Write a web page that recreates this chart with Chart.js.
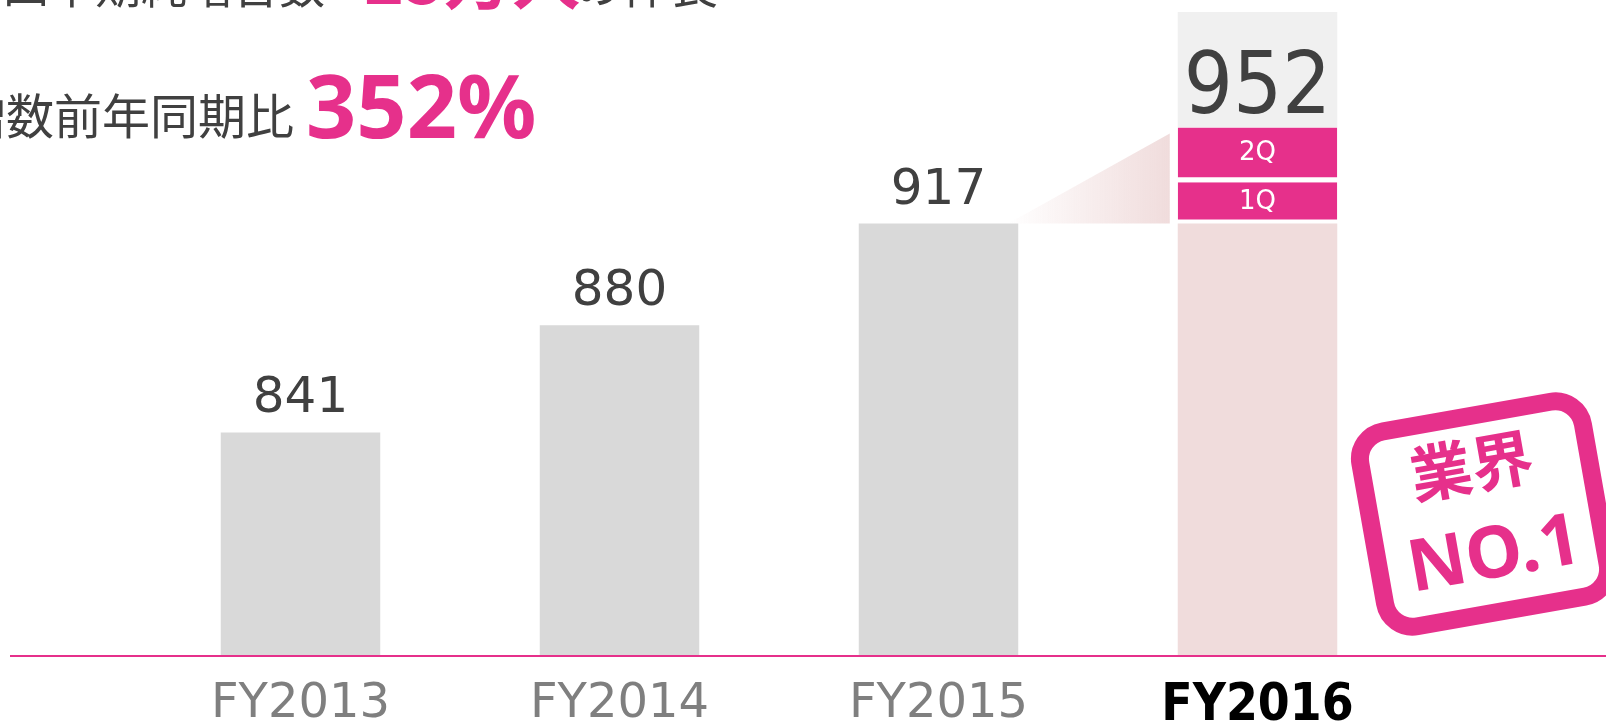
<!DOCTYPE html>
<html>
<head>
<meta charset="utf-8">
<script src="https://cdn.jsdelivr.net/npm/chart.js@4.4.1/dist/chart.umd.min.js"></script>
<style>
  html, body { margin: 0; padding: 0; background: #fff; overflow: hidden; }
  #wrap { position: relative; width: 1606px; height: 724px; }
</style>
</head>
<body>
<div id="wrap"><canvas id="chart" width="1606" height="724"></canvas></div>
<script>
// Chart data
const years = ["FY2013", "FY2014", "FY2015", "FY2016"];
const baseValues = [841, 880, 917, 917];
const q1Values = [null, null, null, 15];
const q2Values = [null, null, null, 20];
const quarterLabels = ["1Q", "2Q"];

// Headline / badge texts
const headline1 = ["四半期純増台数", "+25万人", "の伸長"];
const headline2 = ["純増数前年同期比", "352%"];
const badgeText = ["業界", "NO.1"];

const PINK = "#e6308b";
const DARK = "#404040";

// Extra drawing: label box, fade wedge, values, baseline, headline, badge
const decor = {
  id: "decor",
  beforeDatasetsDraw(chart) {
    const ctx = chart.ctx;
    const area = chart.chartArea;
    const b15 = chart.getDatasetMeta(0).data[2];
    const b16 = chart.getDatasetMeta(0).data[3];
    const top16 = chart.getDatasetMeta(2).data[3];
    const left16 = b16.x - b16.width / 2;

    ctx.save();
    // grey box behind the total
    ctx.fillStyle = "#f0f0f0";
    ctx.fillRect(left16, area.top, b16.width, top16.y - area.top);

    // fade wedge from FY2015 up to the quarters
    const x0 = b15.x + b15.width / 2;
    const x1 = left16 - 8;
    const yb = b16.y;
    const g = ctx.createLinearGradient(x0 - 10, 0, x1, 0);
    g.addColorStop(0, "rgba(240,220,220,0)");
    g.addColorStop(1, "rgba(240,220,220,1)");
    ctx.fillStyle = g;
    ctx.beginPath();
    ctx.moveTo(x0 - 10, yb);
    ctx.lineTo(x1, top16.y + 6);
    ctx.lineTo(x1, yb);
    ctx.closePath();
    ctx.fill();
    ctx.restore();
  },
  afterDatasetsDraw(chart) {
    const ctx = chart.ctx;
    const area = chart.chartArea;
    const bars = chart.getDatasetMeta(0).data;

    ctx.save();
    // pink baseline
    ctx.fillStyle = PINK;
    ctx.fillRect(10, area.bottom, chart.width - 10, 2);

    // values above bars
    ctx.fillStyle = DARK;
    ctx.textAlign = "center";
    ctx.textBaseline = "alphabetic";
    ctx.font = "50px 'DejaVu Sans'";
    for (let i = 0; i < 3; i++) {
      ctx.fillText(String(baseValues[i]), bars[i].x, bars[i].y - 20);
    }

    // total for FY2016
    const total = baseValues[3] + q1Values[3] + q2Values[3];
    const top16 = chart.getDatasetMeta(2).data[3];
    ctx.font = "86px 'DejaVu Sans Condensed'";
    ctx.fillText(String(total), bars[3].x, top16.y - 14);

    // quarter labels
    ctx.fillStyle = "#fff";
    ctx.font = "26px 'DejaVu Sans'";
    ctx.textBaseline = "middle";
    [1, 2].forEach(function (d, k) {
      const el = chart.getDatasetMeta(d).data[3];
      const gap = d === 1 ? 4 : 5;
      ctx.fillText(quarterLabels[k], el.x, (el.y + el.base - gap) / 2 + 1);
    });
    ctx.restore();
  },
  afterDraw(chart) {
    const ctx = chart.ctx;
    ctx.save();
    ctx.textAlign = "left";
    ctx.textBaseline = "alphabetic";

    // headline line 1 (cut at top)
    ctx.fillStyle = DARK;
    ctx.font = "46px 'Noto Sans CJK JP'";
    ctx.fillText(headline1[0], 3, 3);
    ctx.fillStyle = PINK;
    ctx.font = "bold 68px 'Noto Sans CJK JP'";
    ctx.fillText(headline1[1], 324, 4);
    ctx.fillStyle = DARK;
    ctx.font = "48px 'Noto Sans CJK JP'";
    ctx.fillText(headline1[2], 574, 3);

    // headline line 2
    ctx.font = "48px 'Noto Sans CJK JP'";
    ctx.fillText(headline2[0], -90, 134);
    ctx.fillStyle = PINK;
    ctx.font = "bold 88px 'Noto Sans'";
    ctx.fillText(headline2[1], 306, 138);

    // badge
    ctx.translate(1484, 514);
    ctx.rotate(-10 * Math.PI / 180);
    ctx.beginPath();
    ctx.roundRect(-113, -99, 226, 198, 28);
    ctx.fillStyle = "#fff";
    ctx.fill();
    ctx.lineWidth = 18;
    ctx.strokeStyle = PINK;
    ctx.stroke();
    ctx.fillStyle = PINK;
    ctx.textAlign = "center";
    ctx.textBaseline = "middle";
    ctx.font = "bold 62px 'Noto Sans CJK JP'";
    ctx.fillText(badgeText[0], -4, -50);
    ctx.font = "bold 72px 'Noto Sans'";
    ctx.fillText(badgeText[1], 3, 44);
    ctx.restore();
  }
};

const ctx = document.getElementById("chart").getContext("2d");

const chart = new Chart(ctx, {
  type: "bar",
  data: {
    labels: years,
    datasets: [
      {
        label: "base",
        data: baseValues,
        backgroundColor: ["#d9d9d9", "#d9d9d9", "#d9d9d9", "#f0dcdc"],
        borderWidth: 0,
      },
      {
        label: quarterLabels[0],
        data: q1Values,
        backgroundColor: PINK,
        borderColor: "#fff",
        borderWidth: { top: 0, left: 0, right: 0, bottom: 4 },
        borderSkipped: false,
      },
      {
        label: quarterLabels[1],
        data: q2Values,
        backgroundColor: PINK,
        borderColor: "#fff",
        borderWidth: { top: 0, left: 0, right: 0, bottom: 5 },
        borderSkipped: false,
      },
    ],
  },
  options: {
    responsive: false,
    animation: false,
    layout: { padding: { left: 141, right: 189, top: 12, bottom: 0 } },
    datasets: { bar: { categoryPercentage: 0.5, barPercentage: 1 } },
    plugins: { legend: { display: false }, tooltip: { enabled: false } },
    scales: {
      x: {
        stacked: true,
        grid: { display: false, drawTicks: false },
        border: { display: false },
        afterFit: function (scale) {
          scale.height = 69;
        },
        ticks: {
          padding: 21,
          color: (c) => (c.index === 3 ? "#000" : "#7f7f7f"),
          font: (c) =>
            c.index === 3
              ? { family: "'DejaVu Sans Condensed'", size: 51, weight: "bold" }
              : { family: "'DejaVu Sans'", size: 48, weight: "normal" },
        },
      },
      y: {
        stacked: true,
        display: false,
        min: 760,
        max: 994,
      },
    },
  },
  plugins: [decor],
});
</script>
</body>
</html>
